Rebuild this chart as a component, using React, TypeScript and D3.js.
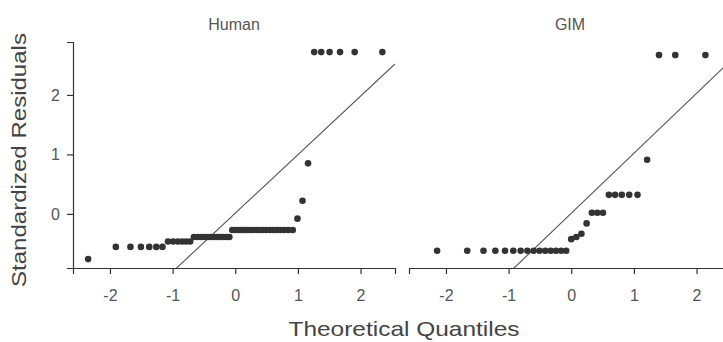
import React, { useEffect, useRef } from 'react'
import * as d3 from 'd3'

// values (sorted standardized residuals per panel)
const panelTitles = ['Human', 'GIM']

const humanResiduals = [
  -0.76,
  -0.555, -0.555, -0.555, -0.555, -0.555, -0.555,
  -0.465, -0.465, -0.465, -0.465, -0.465, -0.465,
  -0.39, -0.39, -0.39, -0.39, -0.39, -0.39, -0.39, -0.39, -0.39, -0.39, -0.39, -0.39,
  -0.27, -0.27, -0.27, -0.27, -0.27, -0.27, -0.27, -0.27, -0.27, -0.27,
  -0.27, -0.27, -0.27, -0.27, -0.27, -0.27, -0.27, -0.27, -0.27,
  -0.08, 0.22, 0.85,
  2.72, 2.72, 2.72, 2.72, 2.72, 2.72
]

const gimResiduals = [
  -0.62, -0.62, -0.62, -0.62, -0.62, -0.62, -0.62, -0.62,
  -0.62, -0.62, -0.62, -0.62, -0.62, -0.62, -0.62,
  -0.425, -0.39, -0.335, -0.16,
  0.02, 0.02, 0.02,
  0.32, 0.32, 0.32, 0.32, 0.32,
  0.91,
  2.67, 2.67, 2.67
]

// fitted reference line per panel
const fitSlopes = [0.984, 1.008]
const fitIntercepts = [0.011, 0.01]

const xTicks = [-2, -1, 0, 1, 2]
const yTicks = [0, 1, 2]
const xDomain = [-2.59, 2.55]
const yDomain = [-0.91, 2.89]

// inverse of the standard normal cdf (Acklam's approximation)
function normalQuantile(p: number) {
  const a = [-39.69683028665376, 220.9460984245205, -275.9285104469687, 138.357751867269, -30.66479806614716, 2.506628277459239]
  const b = [-54.47609879822406, 161.5858368580409, -155.6989798598866, 66.80131188771972, -13.28068155288572]
  const c = [-0.007784894002430293, -0.3223964580411365, -2.400758277161838, -2.549732539343734, 4.374664141464968, 2.938163982698783]
  const d = [0.007784695709041462, 0.3224671290700398, 2.445134137142996, 3.754408661907416]
  const plow = 0.02425
  if (p < plow) {
    const q = Math.sqrt(-2 * Math.log(p))
    return (((((c[0] * q + c[1]) * q + c[2]) * q + c[3]) * q + c[4]) * q + c[5]) /
      ((((d[0] * q + d[1]) * q + d[2]) * q + d[3]) * q + 1)
  }
  if (p > 1 - plow) {
    const q = Math.sqrt(-2 * Math.log(1 - p))
    return -(((((c[0] * q + c[1]) * q + c[2]) * q + c[3]) * q + c[4]) * q + c[5]) /
      ((((d[0] * q + d[1]) * q + d[2]) * q + d[3]) * q + 1)
  }
  const q = p - 0.5
  const r = q * q
  return (((((a[0] * r + a[1]) * r + a[2]) * r + a[3]) * r + a[4]) * r + a[5]) * q /
    (((((b[0] * r + b[1]) * r + b[2]) * r + b[3]) * r + b[4]) * r + 1)
}

const FONT = '"Liberation Sans", Arial, sans-serif'

export default function App() {
  const anchor = useRef<SVGSVGElement>(null)

  useEffect(() => {
    const svg = d3.select(anchor.current)
    svg.selectAll('*').remove()

    const top = 42
    const bottom = 268
    const panelWidth = 322
    const panelLefts = [73, 409]
    const series = [humanResiduals, gimResiduals]

    const y = d3.scaleLinear().domain(yDomain).range([bottom, top])

    series.forEach((values, i) => {
      const x0 = panelLefts[i]
      const x = d3.scaleLinear().domain(xDomain).range([x0, x0 + panelWidth])
      const n = values.length
      const points = values.map((v, k) => ({ q: normalQuantile((k + 0.5) / n), v }))

      const g = svg.append('g')

      // clip for the reference line
      const clipId = 'clip-' + i
      svg
        .append('clipPath')
        .attr('id', clipId)
        .append('rect')
        .attr('x', x0)
        .attr('y', top)
        .attr('width', panelWidth)
        .attr('height', bottom - top)

      g.append('line')
        .attr('clip-path', 'url(#' + clipId + ')')
        .attr('x1', x(xDomain[0]))
        .attr('y1', y(fitIntercepts[i] + fitSlopes[i] * xDomain[0]))
        .attr('x2', x(xDomain[1]))
        .attr('y2', y(fitIntercepts[i] + fitSlopes[i] * xDomain[1]))
        .attr('stroke', '#555')
        .attr('stroke-width', 1.1)

      g.append('g')
        .selectAll('circle')
        .data(points)
        .enter()
        .append('circle')
        .attr('cx', d => x(d.q))
        .attr('cy', d => y(d.v))
        .attr('r', 3.3)
        .attr('fill', '#333')

      const xAxis = g
        .append('g')
        .attr('transform', 'translate(0,' + bottom + ')')
        .call(
          d3
            .axisBottom(x)
            .tickValues(xTicks)
            .tickSizeOuter(0)
            .tickSize(6)
            .tickPadding(16)
            .tickFormat(d => String(d))
        )
      xAxis.select('.domain').attr('stroke', '#333').attr('stroke-width', 1.2)
      xAxis.selectAll('.tick line').attr('stroke', '#333').attr('stroke-width', 1.2)
      xAxis.selectAll('.tick text').attr('fill', '#555').style('font-size', '16px').style('font-family', FONT)

      if (i === 0) {
        const yAxis = g
          .append('g')
          .attr('transform', 'translate(' + x0 + ',0)')
          .call(
            d3
              .axisLeft(y)
              .tickValues(yTicks)
              .tickSizeOuter(0)
              .tickSize(6)
              .tickPadding(7)
              .tickFormat(d => String(d))
          )
        yAxis.select('.domain').attr('stroke', '#333').attr('stroke-width', 1.2)
        yAxis.selectAll('.tick line').attr('stroke', '#333').attr('stroke-width', 1.2)
        yAxis.selectAll('.tick text').attr('fill', '#555').style('font-size', '16px').style('font-family', FONT)
      }

      svg
        .append('text')
        .attr('x', x0 + panelWidth / 2)
        .attr('y', 30)
        .attr('text-anchor', 'middle')
        .attr('fill', '#555')
        .style('font-size', '16px')
        .style('font-family', FONT)
        .text(panelTitles[i])
    })

    svg
      .append('text')
      .attr('transform', 'translate(26,160) rotate(-90)')
      .attr('text-anchor', 'middle')
      .attr('fill', '#444')
      .attr('textLength', 254)
      .attr('lengthAdjust', 'spacingAndGlyphs')
      .style('font-size', '20px')
      .style('font-family', FONT)
      .text('Standardized Residuals')

    svg
      .append('text')
      .attr('x', 404)
      .attr('y', 336)
      .attr('text-anchor', 'middle')
      .attr('fill', '#444')
      .attr('textLength', 231)
      .attr('lengthAdjust', 'spacingAndGlyphs')
      .style('font-size', '21px')
      .style('font-family', FONT)
      .text('Theoretical Quantiles')
  }, [])

  return (
    <>
      <style>{'body{margin:0}'}</style>
      <svg ref={anchor} width={723} height={342} style={{ display: 'block', overflow: 'hidden' }} />
    </>
  )
}
